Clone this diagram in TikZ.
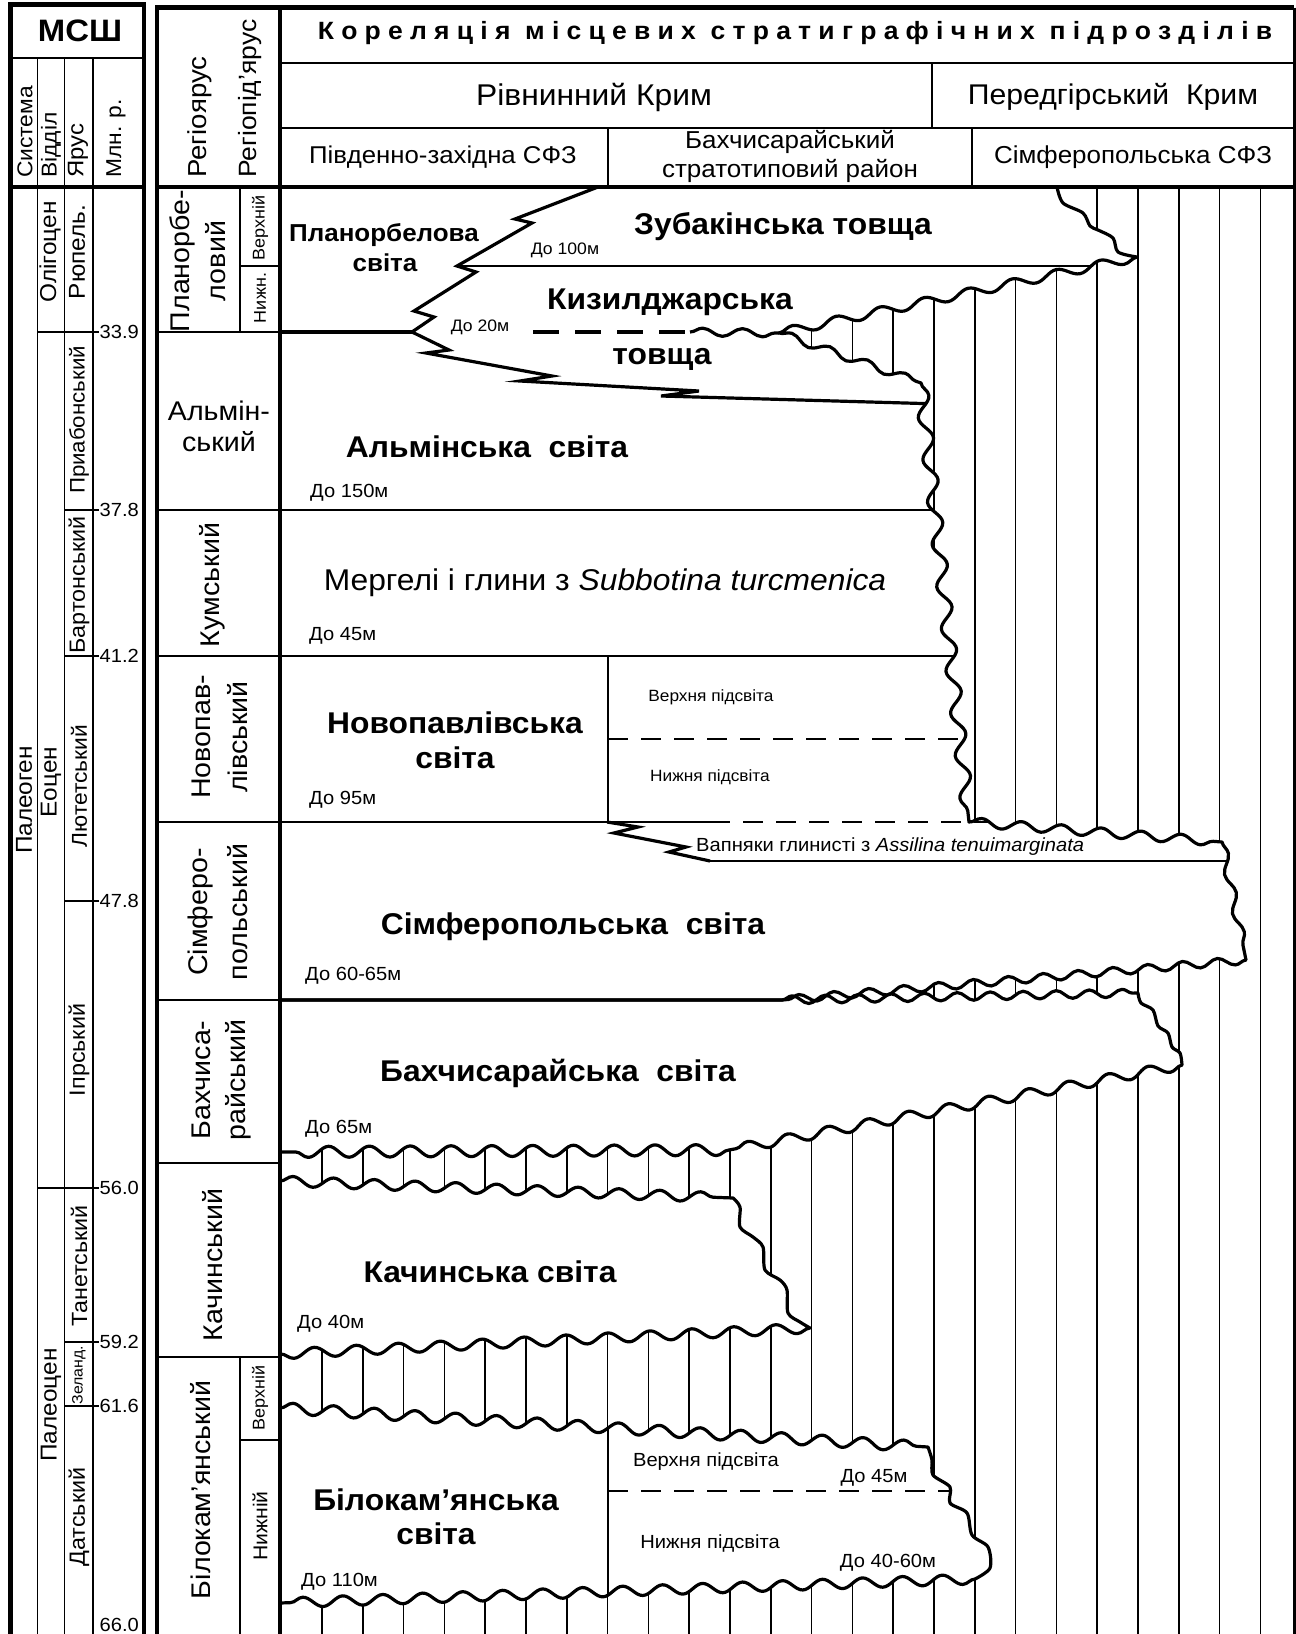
\documentclass[tikz,border=0pt]{standalone}
\usepackage{fontspec}
\setmainfont{Liberation Sans}[FakeStretch=1.06]
\usetikzlibrary{decorations.pathmorphing}
\newcommand\fsz[1]{\fontsize{#1}{#1}\selectfont}
\tikzset{
  ws/.style 2 args={decoration={snake,segment length=#1,amplitude=#2}},
  frm/.style={line width=4.5pt},
  thk/.style={line width=3.2pt, line join=round},
  med/.style={line width=2.4pt},
  thn/.style={line width=1.7pt},
  hatchln/.style={line width=1.6pt},
  tx/.style={inner sep=0pt, font={\fsz{#1}}},
  bx/.style={inner sep=0pt, font={\fsz{#1}\bfseries}},
  rx/.style={inner sep=0pt, rotate=90, font={\fsz{#1}}},
  dsh/.style={dash pattern=on 20pt off 13pt},
}
\def\WA{(280,187) -- (1057,187)
  -- plot[smooth] coordinates {(1057,187) (1063,203) (1083,213) (1090,226) (1098,230) (1113,238) (1118,252) (1137,257)}
  decorate[ws={45pt}{4.5pt}]{-- (779,333)}
  decorate[ws={40pt}{4pt}]{-- (921,383)}
  decorate[ws={42.5pt}{6.5pt}]{-- (969,822)}
  decorate[ws={40pt}{4.5pt}]{-- (1222,842)}
  decorate[ws={40pt}{4pt}]{-- (1246,960)}
  decorate[ws={35pt}{4pt}]{-- (782,1000)}
  -- (280,1000) -- cycle}
\def\WB{(280,1000) -- (782,1000)
  decorate[ws={33pt}{4pt}]{-- (1138,993)}
  -- plot[smooth] coordinates {(1138,993) (1141,1003) (1153,1010) (1158,1026) (1168,1033) (1172,1047) (1180,1053) (1182,1065)}
  decorate[ws={40.8pt}{5pt}]{-- (729,1150)}
  decorate[ws={40.8pt}{5.5pt}]{-- (280,1152)}
  -- cycle}
\def\WC{(280,1181)
  decorate[ws={40.8pt}{5pt}]{-- (733,1198)}
  -- plot[smooth] coordinates {(733,1198) (740,1207) (740,1227) (753,1237) (763,1247) (765,1270) (780,1280) (787,1290) (788,1313) (800,1322) (810,1328)}
  decorate[ws={42pt}{5pt}]{-- (280,1354)}
  -- cycle}
\def\WD{(280,1408)
  decorate[ws={40.8pt}{5.5pt}]{-- (928,1447)}
  -- plot[smooth] coordinates {(928,1447) (932,1460) (933,1475) (950,1487) (950,1503) (967,1513) (972,1535) (988,1547) (990,1568) (975,1579)}
  decorate[ws={40pt}{5pt}]{-- (280,1603)}
  -- cycle}
\begin{document}
\begin{tikzpicture}[x=1pt,y=-1pt]
\useasboundingbox (0,0) rectangle (1296,1634);
\fill[white] (0,0) rectangle (1296,1634);
% hatching of gaps
\foreach \k in {0,...,23}{\draw[hatchln] ({322+40.8*\k},187) -- ({322+40.8*\k},1640);}
% formations (white)
\fill[white] \WA;
\fill[white] \WB;
\fill[white] \WC;
\fill[white] \WD;
% interior lines of upper block
\begin{scope}
\clip \WA;
\draw[med] (457,266) -- (1150,266);
\draw[thk, line join=miter] (598,187) -- (515,219) -- (532,223) -- (457,266) -- (476,272) -- (414,311) -- (434,317) -- (412,332) -- (449,350) -- (426,353) -- (552,376) -- (520,381) -- (699,391) -- (661,396) -- (940,404);
\draw[thk] (280,332) -- (412,332);
\draw[thk, dash pattern=on 26pt off 16pt] (533,332) -- (690,332);
\draw[thk] (690,332) decorate[ws={40pt}{4pt}]{-- (779,333)};
\draw[med] (280,510) -- (1000,510);
\draw[med] (280,656) -- (1000,656);
\draw[thn] (608,656) -- (608,822);
\draw[thn, dsh] (608,739) -- (1000,739);
\draw[med] (280,822) -- (710,822);
\draw[med, dsh] (710,822) -- (1000,822);
\draw[thk, line join=miter] (607,822) -- (638,827) -- (614,833) -- (686,847) -- (669,852) -- (710,861);
\draw[thn] (710,861) -- (1260,861);
\end{scope}
\begin{scope}
\clip \WD;
\draw[thn] (608,1400) -- (608,1610);
\draw[thn, dsh] (608,1491) -- (1000,1491);
\end{scope}
% formation outlines
\draw[thk] \WA;
\draw[thk] \WB;
\draw[thk] \WC;
\draw[thk] \WD;
% ---- MSSh table
\draw[thn] (37.5,58) -- (37.5,1640);
\draw[thn] (64.5,58) -- (64.5,1640);
\draw[thn] (93,58) -- (93,1640);
\draw[med] (10.5,58) -- (144,58);
\draw[frm] (10.5,187) -- (144,187);
\draw[thn] (37.5,332) -- (99,332);
\draw[thn] (64.5,510) -- (99,510);
\draw[thn] (64.5,656) -- (99,656);
\draw[thn] (64.5,901) -- (99,901);
\draw[thn] (37.5,1188) -- (99,1188);
\draw[thn] (64.5,1342) -- (99,1342);
\draw[thn] (64.5,1406) -- (99,1406);
\draw[frm] (10.5,1640) -- (10.5,4.5) -- (144,4.5) -- (144,1640);
% ---- right table
\draw[med] (280,63) -- (1294,63);
\draw[med] (280,128) -- (1294,128);
\draw[med] (932,63) -- (932,128);
\draw[med] (608,128) -- (608,187);
\draw[med] (972,128) -- (972,187);
\draw[thn] (240,187) -- (240,332);
\draw[thn] (240,266) -- (280,266);
\draw[thn] (240,1357) -- (240,1640);
\draw[thn] (240,1440) -- (280,1440);
\foreach \yy in {332,510,656,822,1000,1163,1357}{\draw[med] (157,\yy) -- (280,\yy);}
\draw[frm] (157,187) -- (1294,187);
\draw[frm] (280,7.5) -- (280,1640);
\draw[frm] (157,1640) -- (157,7.5) -- (1294,7.5);
\draw[line width=3pt] (1294,7.5) -- (1294,1640);
% ---- header texts
\node[bx=31] (msh) at (80,31) {МСШ};
\node[rx=21.5, anchor=west] (hsys) at (25,178) {Система};
\node[rx=21.5, anchor=west] (hvid) at (51,178) {Відділ};
\node[rx=22.5, anchor=west] (hyar) at (78,178) {Ярус};
\node[rx=21.5, anchor=west] (hmln) at (116,178) {Млн. р.};
\node[rx=26, anchor=west] (hreg) at (200,178) {Регіоярус};
\node[rx=25, anchor=west] (hpid) at (250,178) {Регіопід’ярус};
\node[inner sep=0pt, font={\fsz{25}\bfseries\addfontfeatures{LetterSpace=29}}] (title) at (795,33) {Кореляція місцевих стратиграфічних підрозділів};
\node[tx=30] (rivn) at (594,97) {Рівнинний Крим};
\node[tx=28.5] (pered) at (1113,97) {Передгірський\ \ Крим};
\node[tx=24.3] (pzsfz) at (443,157) {Південно-західна СФЗ};
\node[tx=24.5] (bakh1) at (790,142) {Бахчисарайський};
\node[tx=24.5] (bakh2) at (790,171) {стратотиповий район};
\node[tx=24.5] (simsfz) at (1133,157) {Сімферопольська СФЗ};
% ---- MSSh column texts
\node[rx=23] (olig) at (50,252) {Олігоцен};
\node[rx=23] (ryup) at (77,252) {Рюпель.};
\node[rx=21] (priab) at (79,420) {Приабонський};
\node[rx=22] (barton) at (79,585) {Бартонський};
\node[rx=21.5] (lyutet) at (79,786) {Лютетський};
\node[rx=23] (paleog) at (24,800) {Палеоген};
\node[rx=23] (eocen) at (51,782) {Еоцен};
\node[rx=22] (ipr) at (79,1050) {Іпрський};
\node[rx=22] (tanet) at (79,1266) {Танетський};
\node[rx=15] (zeland) at (79,1375) {Зеланд.};
\node[rx=22] (dat) at (79,1517) {Датський};
\node[rx=23] (paleoc) at (51,1405) {Палеоцен};
\node[tx=19, anchor=west] (t339) at (99.5,332) {33.9};
\node[tx=19, anchor=west] (t378) at (99.5,510) {37.8};
\node[tx=19, anchor=west] (t412) at (99.5,656) {41.2};
\node[tx=19, anchor=west] (t478) at (99.5,901) {47.8};
\node[tx=19, anchor=west] (t560) at (99.5,1188) {56.0};
\node[tx=19, anchor=west] (t592) at (99.5,1342) {59.2};
\node[tx=19, anchor=west] (t616) at (99.5,1406) {61.6};
\node[tx=19, anchor=west] (t660) at (99.5,1625) {66.0};
% ---- regional column texts
\node[rx=27] (plan1) at (182,261) {Планорбе-};
\node[rx=27] (plan2) at (216,261) {ловий};
\node[rx=17] (pverh) at (260,228) {Верхній};
\node[rx=17] (pnyzh) at (260,298) {Нижн.};
\node[tx=27] (alm1) at (219,411) {Альмін-};
\node[tx=27] (alm2) at (219,442) {ський};
\node[rx=27] (kum) at (212,585) {Кумський};
\node[rx=27] (nov1) at (201,737) {Новопав-};
\node[rx=27] (nov2) at (238,737) {лівський};
\node[rx=27] (sim1) at (201,912) {Сімферо-};
\node[rx=27] (sim2) at (238,912) {польський};
\node[rx=27] (bah1) at (201,1080) {Бахчиса-};
\node[rx=27] (bah2) at (238,1080) {райський};
\node[rx=27] (kach) at (213,1265) {Качинський};
\node[rx=27] (bilk) at (201,1490) {Білокам’янський};
\node[rx=17] (bverh) at (260,1398) {Верхній};
\node[rx=20] (bnyzh) at (260,1526) {Нижній};
% ---- body texts
\node[bx=24.5] (plsv1) at (384,235) {Планорбелова};
\node[bx=24.5] (plsv2) at (385,263) {світа};
\node[bx=30] (zub) at (783,227) {Зубакінська товща};
\node[tx=16.6] (d100) at (565,250) {До 100м};
\node[bx=30] (kyz1) at (670,302) {Кизилджарська};
\node[tx=16.6] (d20) at (480,327) {До 20м};
\node[bx=30] (kyz2) at (662,359) {товща};
\node[bx=30] (alms) at (487,447) {Альмінська\ \ світа};
\node[tx=19, anchor=west] (d150) at (310,493) {До 150м};
\node[tx=30] (merg) at (605,583) {Мергелі і глини з \textit{Subbotina turcmenica}};
\node[tx=19, anchor=west] (d45a) at (309,636) {До 45м};
\node[bx=30] (nov3) at (455,723) {Новопавлівська};
\node[bx=30] (nov4) at (455,758) {світа};
\node[tx=19, anchor=west] (d95) at (309,800) {До 95м};
\node[tx=16.3] (nverh) at (711,697) {Верхня підсвіта};
\node[tx=16.3] (nnyzh) at (710,777) {Нижня підсвіта};
\node[tx=19, anchor=west] (vapn) at (696,847) {Вапняки глинисті з \textit{Assilina tenuimarginata}};
\node[bx=30] (simsv) at (573,927) {Сімферопольська\ \ світа};
\node[tx=19, anchor=west] (d6065) at (305,976) {До 60-65м};
\node[bx=30] (bahsv) at (558,1073) {Бахчисарайська\ \ світа};
\node[tx=19, anchor=west] (d65) at (305,1129) {До 65м};
\node[bx=30] (kachsv) at (490,1272) {Качинська світа};
\node[tx=19, anchor=west] (d40) at (297,1324) {До 40м};
\node[bx=30] (bil1) at (436,1500) {Білокам’янська};
\node[bx=30] (bil2) at (436,1534) {світа};
\node[tx=19] (bverh2) at (706,1462) {Верхня підсвіта};
\node[tx=19] (d45b) at (874,1478) {До 45м};
\node[tx=19] (bnyzh2) at (710,1543) {Нижня підсвіта};
\node[tx=19] (d4060) at (888,1563) {До 40-60м};
\node[tx=19, anchor=west] (d110) at (301,1582) {До 110м};
\end{tikzpicture}
\end{document}
